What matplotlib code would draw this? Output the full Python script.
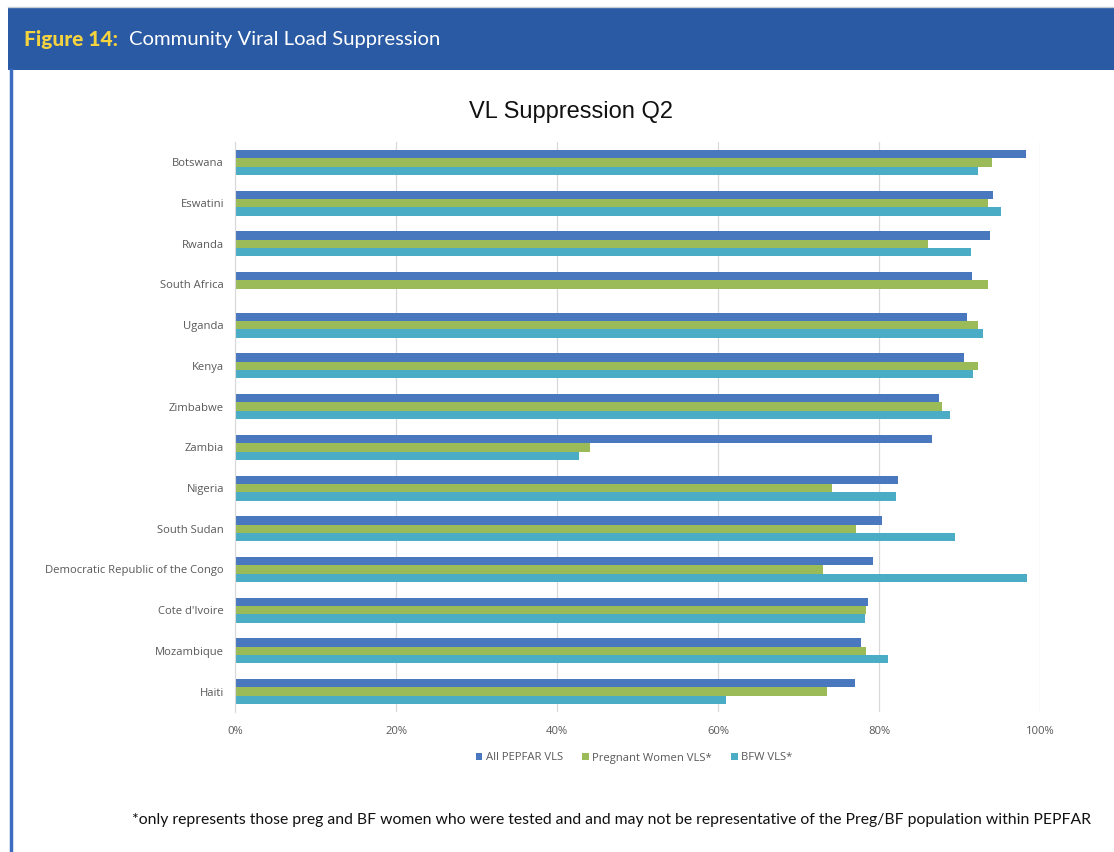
import matplotlib.pyplot as plt
from matplotlib.patches import Rectangle
from matplotlib.lines import Line2D

countries = ['Botswana', 'Eswatini', 'Rwanda', 'South Africa', 'Uganda', 'Kenya',
             'Zimbabwe', 'Zambia', 'Nigeria', 'South Sudan',
             'Democratic Republic of the Congo', "Cote d'Ivoire", 'Mozambique', 'Haiti']
all_vls = [98.3, 94.2, 93.8, 91.6, 90.9, 90.6, 87.4, 86.6, 82.4, 80.4, 79.2, 78.6, 77.8, 77.0]
preg_vls = [94.0, 93.5, 86.1, 93.5, 92.3, 92.3, 87.8, 44.1, 74.2, 77.1, 73.0, 78.4, 78.4, 73.6]
bfw_vls = [92.3, 95.2, 91.4, None, 92.9, 91.7, 88.8, 42.7, 82.1, 89.5, 98.4, 78.3, 81.1, 61.0]
series_names = ['All PEPFAR VLS', 'Pregnant Women VLS*', 'BFW VLS*']
colors = ['#4A78BE', '#9BBB59', '#4BACC6']
xticks = [0, 20, 40, 60, 80, 100]

fig = plt.figure(figsize=(11.14, 8.52), dpi=100)

# header band and left border
fig.patches.append(Rectangle((8 / 1114, 1 - 70 / 852), 1, 63 / 852, transform=fig.transFigure,
                             facecolor='#2A5AA3', edgecolor='none', zorder=0))
fig.add_artist(Line2D([8 / 1114, 1], [1 - 7 / 852, 1 - 7 / 852], color='#C8CCD4', lw=1))
fig.add_artist(Line2D([10.5 / 1114, 10.5 / 1114], [0, 1 - 70 / 852], color='#3B6CC0', lw=2.5))

fig.text(24 / 1114, 1 - 39.5 / 852, 'Figure 14:', color='#F5D33F', fontsize=15,
         fontweight='black', family='Lato', va='center')
fig.text(129 / 1114, 1 - 39.5 / 852, 'Community Viral Load Suppression', color='white',
         fontsize=14.6, family='Lato', va='center')

fig.text(571 / 1114, 1 - 112 / 852, 'VL Suppression Q2', fontsize=17, family='Liberation Sans',
         ha='center', va='center', color='#111111')

ax = fig.add_axes([235 / 1114, 1 - 712 / 852, 805 / 1114, 570 / 852])
h = 0.205
for i, (vals, c, name) in enumerate(zip([all_vls, preg_vls, bfw_vls], colors, series_names)):
    ys = [k + (i - 1) * h for k in range(len(countries)) if vals[k] is not None]
    xs = [v / 100 for v in vals if v is not None]
    ax.barh(ys, xs, height=h, color=c, label=name, zorder=2)

ax.set_xlim(0, 1)
ax.set_ylim(len(countries) - 0.5, -0.5)
ax.set_yticks(range(len(countries)))
ax.set_yticklabels(countries, fontsize=8.1, color='#595959', family='Open Sans')
ax.set_xticks([t / 100 for t in xticks])
ax.set_xticklabels([f'{t}%' for t in xticks], fontsize=8.1, color='#595959', family='Open Sans')
ax.tick_params(length=0, pad=8)
ax.tick_params(axis='x', pad=10)
ax.grid(axis='x', color='#D9D9D9', lw=0.9, zorder=0)
for s in ['top', 'right', 'bottom']:
    ax.spines[s].set_visible(False)
ax.spines['left'].set_color('#D9D9D9')

ax.legend(loc='center', bbox_to_anchor=(634 / 1114, 1 - 758 / 852), bbox_transform=fig.transFigure,
          ncol=3, frameon=False, handlelength=0.6, handleheight=0.6, handletextpad=0.3,
          columnspacing=1.7, prop={'family': 'Open Sans', 'size': 8.1}, labelcolor='#595959')

fig.text(611 / 1114, 1 - 820 / 852,
         '*only represents those preg and BF women who were tested and and may not be representative of the Preg/BF population within PEPFAR',
         fontsize=11.3, family='Lato', ha='center', va='center', color='#111111')

fig.savefig('out.png', dpi=100)
